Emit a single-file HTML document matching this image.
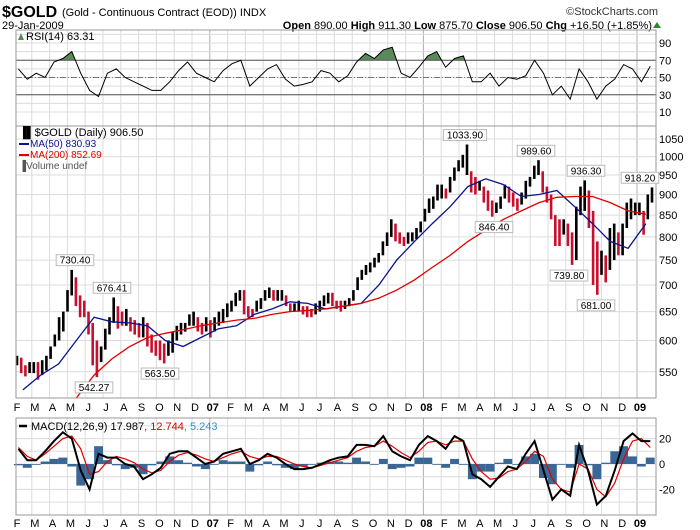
<!DOCTYPE html>
<html><head><meta charset="utf-8">
<style>
html,body{margin:0;padding:0;background:#fff;}
svg{display:block;font-family:"Liberation Sans",sans-serif;}
</style></head>
<body>
<svg id="chart" width="700" height="530" viewBox="0 0 700 530" xmlns="http://www.w3.org/2000/svg">
<g>
<text x="2" y="17" font-size="16" font-weight="bold">$GOLD</text>
<text x="62" y="16" font-size="11">(Gold - Continuous Contract (EOD)) INDX</text>
<text x="2" y="29" font-size="11">29-Jan-2009</text>
<text x="658" y="15" font-size="11" text-anchor="end" fill="#333">©StockCharts.com</text>
<text x="652" y="29" font-size="11" text-anchor="end"><tspan font-weight="bold">Open</tspan> 890.00 <tspan font-weight="bold">High</tspan> 911.30 <tspan font-weight="bold">Low</tspan> 875.70 <tspan font-weight="bold">Close</tspan> 906.50 <tspan font-weight="bold">Chg</tspan> +16.50 (+1.85%)</text>
<polygon points="653,28 661,28 657,22" fill="#2a8a2a"/>
</g>
<g id="grid"></g>
<g id="marks"></g>
<g id="frames"></g>
<g id="labels"></g>
</svg>
<script>
// ---------- DATA ----------
const monthLabels = ["F","M","A","M","J","J","A","S","O","N","D","07","F","M","A","M","J","J","A","S","O","N","D","08","F","M","A","M","J","J","A","S","O","N","D","09"];
const weekHigh = [575,572,560,565, 565,565,568,575, 590,610,640,650, 690,730,715,680,670, 650,630,600,590, 620,640,676,660, 650,655,640,635,630, 640,630,610,600, 600,595,600,615, 625,630,630,645, 650,640,630,640,
 635,640,650,655, 665,670,685,690, 690,660,655,670, 675,690,695,690, 690,690,680,665,665, 670,660,660,655, 665,670,680,685, 685,670,670,670,675, 690,715,730,740, 745,755,765,790, 810,840,830,810,800, 810,810,820,835,
 865,890,895,925, 925,915,945,970, 990,1005,1034,960, 945,935,920,910, 885,880,895,925,920, 905,890,905,935, 945,975,990,960, 920,900,850,840,840, 830,810,870,920, 936,910,860,790, 770,760,820,830, 810,830,880,890,880,
 880,860,900,918];
const weekLow = [560,548,543,548, 548,538,545,552, 570,590,600,615, 650,680,660,640,640, 610,560,542,565, 585,610,630,620, 625,625,615,610,605, 605,590,580,575, 568,563,575,580, 600,610,615,625, 625,615,610,615,
 605,615,625,630, 640,650,660,670, 645,640,640,650, 655,670,675,670, 670,670,660,650,650, 650,645,640,640, 645,650,660,665, 660,655,650,655,660, 670,690,710,720, 725,735,745,760, 780,800,790,785,780, 785,790,795,810,
 835,855,865,885, 890,890,905,935, 960,970,950,905, 900,910,880,860, 846,855,865,890,880, 870,860,875,890, 920,940,950,905, 880,840,780,780,805, 780,740,750,850, 860,820,700,681, 720,705,730,750, 760,760,820,840,850,
 850,805,840,880];
const ma50 = [523,545,562,600,640,632,630,625,600,590,605,620,625,645,655,668,665,655,660,665,700,750,790,830,870,920,940,925,895,900,910,870,830,790,775,830];
const ma200Start = 3;
const ma200 = [510,545,570,590,605,612,618,625,630,635,638,645,650,652,655,660,665,675,690,710,735,760,790,815,840,860,880,893,895,895,880,860,852];
const rsi = [60,48,55,50,68,72,80,55,35,28,55,60,50,45,40,35,35,45,58,68,55,50,45,58,66,70,40,50,60,65,48,40,42,45,58,55,45,52,68,78,72,82,85,55,50,62,75,80,62,72,75,45,45,55,40,50,48,52,70,55,30,40,25,60,45,25,40,48,65,60,45,63];
const macd = [12,3,3,10,18,25,20,-5,-20,8,5,5,0,-2,-12,-8,-3,8,10,10,5,0,2,8,10,12,0,3,8,5,0,-4,-4,-3,0,3,5,6,15,15,14,22,10,6,3,15,22,18,12,22,18,-8,-12,-18,-10,-2,-4,8,18,-5,-28,-20,-25,15,-5,-32,-25,-5,18,24,18,18];
const signal = [13,6,3,8,14,20,22,12,-8,-6,2,6,4,1,-4,-7,-5,2,7,9,7,4,2,5,8,10,6,4,6,6,3,0,-2,-3,-1,1,3,5,10,13,14,18,14,9,5,10,17,18,15,18,18,4,-6,-12,-11,-6,-4,2,10,6,-12,-20,-22,0,-4,-20,-26,-15,4,18,20,13];
const priceTicks = [550,600,650,700,750,800,850,900,950,1000,1050];
const rsiTicks = [10,30,50,70,90];
const macdTicks = [-20,0,20];
const annotations = [["730.40",730.4,75,"above"],["676.41",676.41,112,"above"],["542.27",542.27,94,"below"],["563.50",563.5,160,"below"],["1033.90",1033.9,465,"above"],["989.60",989.6,536,"above"],["936.30",936.3,586,"above"],["918.20",918.2,640,"above"],["846.40",846.4,494,"below"],["739.80",739.8,569,"below"],["681.00",681,596,"below"]];

// ---------- GEOMETRY ----------
const L=16,R=656;
const P={top:126,bot:398}, RS={top:30,bot:126}, M={top:418,bot:515};
const NS="http://www.w3.org/2000/svg";
const xm = m => 14 + 17.8*m;
const xw = i => 17 + i*(652-17)/(weekHigh.length-1);
const xh = j => 14 + 8.9*j + 4.4;
const py = p => 139 + 360*Math.log(1050/p);
const ry = v => 43 + (90-v)*0.8625;
const my = v => 464 - v*1.27;
function mk(tag, attrs, parent){const e=document.createElementNS(NS,tag);for(const k in attrs)e.setAttribute(k,attrs[k]);document.getElementById(parent).appendChild(e);return e;}

// grid
for (const [t,b] of [[RS.top,RS.bot],[P.top,P.bot],[M.top,M.bot]]) {
  for (let m=0;m<monthLabels.length;m++){
    const x=xm(m); if(x<=L) continue;
    const g=mk('line',{x1:x,x2:x,y1:t,y2:b,stroke:(m===11||m===23||m===35)?'#b0b0b0':'#dcdcdc','stroke-width':1},'grid');
    
    
  }
}
for (let v=10; v<=100; v+=10){ const y=ry(v); if(y<RS.top) continue;
  const g=mk('line',{x1:L,x2:R,y1:y,y2:y,stroke:'#dcdcdc'},'grid');
  
  
}
for (let p=500;p<=1100;p+=50){ const y=py(p); if(y<P.top||y>P.bot) continue;
  const g=mk('line',{x1:L,x2:R,y1:y,y2:y,stroke:'#dcdcdc'},'grid');
  
  
}
for (let v=-30;v<=30;v+=10){ const y=my(v); if(y<M.top||y>M.bot) continue;
  const g=mk('line',{x1:L,x2:R,y1:y,y2:y,stroke:'#dcdcdc'},'grid');
  
  
}

// RSI
{
  const defs=mk('defs',{},'marks');
  const cp=document.createElementNS(NS,'clipPath'); cp.setAttribute('id','ob'); defs.appendChild(cp);
  const r=document.createElementNS(NS,'rect'); r.setAttribute('x',L);r.setAttribute('y',RS.top);r.setAttribute('width',R-L);r.setAttribute('height',ry(70)-RS.top); cp.appendChild(r);
  const pts=rsi.map((v,j)=>xh(j).toFixed(1)+','+ry(v).toFixed(1));
  const fill=mk('polygon',{points:pts.join(' ')+' '+xh(rsi.length-1)+','+ry(70)+' '+xh(0)+','+ry(70),fill:'#5a8a5a','clip-path':'url(#ob)'},'marks');
  
  
  for (const v of [70,30]){const l=mk('line',{x1:L,x2:R,y1:ry(v),y2:ry(v),stroke:'#555'},'marks');
    
    }
  const mid=mk('line',{x1:L,x2:R,y1:ry(50),y2:ry(50),stroke:'#777','stroke-dasharray':'6,2,1,2'},'marks');
  
  
  const ln=mk('polyline',{points:pts.join(' '),fill:'none',stroke:'#000','stroke-width':1},'marks');
  
  
}

// price bars
for (let i=0;i<weekHigh.length;i++){
  const mid=(weekHigh[i]+weekLow[i])/2, prev=i?(weekHigh[i-1]+weekLow[i-1])/2:mid;
  const b=mk('rect',{x:(xw(i)-1.3).toFixed(1),y:py(weekHigh[i]).toFixed(1),width:2.6,height:Math.max(1,py(weekLow[i])-py(weekHigh[i])).toFixed(1),fill:mid<prev?'#c8102e':'#000'},'marks');
  
  
}
{
  const l1=mk('polyline',{points:ma50.map((v,m)=>(xm(m)+8.9).toFixed(1)+','+py(v).toFixed(1)).join(' '),fill:'none',stroke:'#0a148c','stroke-width':1.3},'marks');
  
  
  const l2=mk('polyline',{points:ma200.map((v,k)=>(xm(k+ma200Start)+8.9).toFixed(1)+','+Math.min(P.bot,py(v)).toFixed(1)).join(' '),fill:'none',stroke:'#e00000','stroke-width':1.3},'marks');
  
  
}
// annotations
for (const [txt,val,x,pos] of annotations){
  const y=py(val); const w=txt.length*5.6+4;
  const by = pos==='above' ? y-15 : y+5;
  const r=mk('rect',{x:x-w/2,y:by,width:w,height:11,fill:'#fff',stroke:'#bbb'},'labels');
  
  
  const t=mk('text',{x:x,y:by+9,'font-size':10,'text-anchor':'middle'},'labels');
  t.textContent=txt;
  
  
}

// MACD
{
  for (let j=0;j<macd.length;j++){
    const h=macd[j]-signal[j]; const y0=my(0), y1=my(h);
    const b=mk('rect',{x:(xh(j)-4.45).toFixed(1),y:Math.min(y0,y1).toFixed(1),width:8.9,height:Math.max(0.8,Math.abs(y1-y0)).toFixed(1),fill:'#3a6796'},'marks');
    
    
  }
  const s=mk('polyline',{points:signal.map((v,j)=>xh(j).toFixed(1)+','+my(v).toFixed(1)).join(' '),fill:'none',stroke:'#e00000','stroke-width':1.2},'marks');
  
  
  const m=mk('polyline',{points:macd.map((v,j)=>xh(j).toFixed(1)+','+my(v).toFixed(1)).join(' '),fill:'none',stroke:'#000','stroke-width':2},'marks');
  
  
}

// frames
for (const [t,b,n] of [[RS.top,RS.bot,'rsi-panel'],[P.top,P.bot,'price-panel'],[M.top,M.bot,'macd-panel']]){
  const f=mk('rect',{x:L,y:t,width:R-L,height:b-t,fill:'none',stroke:'#999'},'frames');
  
  
}

// axis labels
function txt(x,y,s,attrs,name){const t=mk('text',Object.assign({x:x,y:y,'font-size':11},attrs||{}),'labels');t.textContent=s;
  
  return t;}
for (const v of rsiTicks) txt(659,ry(v)+4,String(v),{},'rsi-tick-label');
for (const v of priceTicks) txt(659,py(v)+4,String(v),{},'price-tick-label');
for (const v of macdTicks) txt(659,my(v)+4,String(v),{},'macd-tick-label');
for (let m=0;m<monthLabels.length;m++){
  const bold=/\d/.test(monthLabels[m]);
  txt(xm(m)+3,P.bot+13,monthLabels[m],{'text-anchor':'middle','font-weight':bold?'bold':'normal'},'x-axis-label');
  txt(xm(m)+3,M.bot+12,monthLabels[m],{'text-anchor':'middle','font-weight':bold?'bold':'normal'},'macd-x-axis-label');
}
// legends
txt(26,40,'RSI(14) 63.31',{},'rsi-legend');
const ic=mk('polygon',{points:'18,40 21,33 24,40',fill:'#5a8a5a'},'labels');


txt(19,136,'\u2590\u258c$GOLD (Daily) 906.50',{'font-size':11},'price-legend');
txt(30,147,'MA(50) 830.93',{'font-size':10,fill:'#0a148c'},'ma50-legend');
const l50=mk('line',{x1:19,x2:29,y1:144,y2:144,stroke:'#0a148c','stroke-width':2},'labels');


txt(30,158,'MA(200) 852.69',{'font-size':10,fill:'#e00000'},'ma200-legend');
const l200=mk('line',{x1:19,x2:29,y1:155,y2:155,stroke:'#e00000','stroke-width':2},'labels');


txt(19,169,'\u2590Volume undef',{'font-size':10,fill:'#555'},'volume-legend');
const lm=mk('line',{x1:19,x2:27,y1:426,y2:426,stroke:'#000','stroke-width':2.5},'labels');


const mt=txt(31,430,'MACD(12,26,9) 17.987',{'font-size':11},'macd-legend');
const t2=document.createElementNS(NS,'tspan');t2.setAttribute('fill','#e00000');t2.textContent=', 12.744';mt.appendChild(t2);
const t3=document.createElementNS(NS,'tspan');t3.setAttribute('fill','#3a8fc8');t3.textContent=', 5.243';mt.appendChild(t3);
</script>
</body></html>
